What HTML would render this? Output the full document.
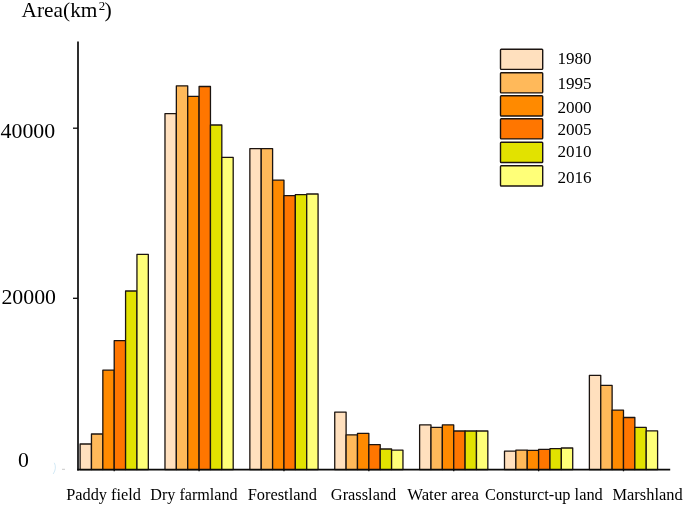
<!DOCTYPE html>
<html><head><meta charset="utf-8"><title>Area chart</title>
<style>
html,body{margin:0;padding:0;background:#fff;}
svg{display:block;filter:blur(0.3px);}
text{font-family:"Liberation Serif","Times New Roman",serif;fill:#000;}
</style></head><body>
<svg width="685" height="506" viewBox="0 0 685 506">
<rect width="685" height="506" fill="#fff"/>

<g stroke="#1c1410" stroke-width="1.3" stroke-linejoin="round">
<rect x="80.10" y="444.00" width="11.37" height="25.60" fill="#FFE0BE"/>
<rect x="91.47" y="434.00" width="11.37" height="35.60" fill="#FFB95A"/>
<rect x="102.84" y="370.20" width="11.37" height="99.40" fill="#FF8A00"/>
<rect x="114.21" y="340.70" width="11.37" height="128.90" fill="#FF7600"/>
<rect x="125.58" y="291.00" width="11.37" height="178.60" fill="#E2E200"/>
<rect x="136.95" y="254.40" width="11.37" height="215.20" fill="#FFFF78"/>
<rect x="164.98" y="113.60" width="11.37" height="356.00" fill="#FFE0BE"/>
<rect x="176.35" y="85.80" width="11.37" height="383.80" fill="#FFB95A"/>
<rect x="187.72" y="96.30" width="11.37" height="373.30" fill="#FF8A00"/>
<rect x="199.09" y="86.50" width="11.37" height="383.10" fill="#FF7600"/>
<rect x="210.46" y="125.00" width="11.37" height="344.60" fill="#E2E200"/>
<rect x="221.83" y="157.30" width="11.37" height="312.30" fill="#FFFF78"/>
<rect x="249.86" y="148.60" width="11.37" height="321.00" fill="#FFE0BE"/>
<rect x="261.23" y="148.60" width="11.37" height="321.00" fill="#FFB95A"/>
<rect x="272.60" y="180.20" width="11.37" height="289.40" fill="#FF8A00"/>
<rect x="283.97" y="195.70" width="11.37" height="273.90" fill="#FF7600"/>
<rect x="295.34" y="194.60" width="11.37" height="275.00" fill="#E2E200"/>
<rect x="306.71" y="194.00" width="11.37" height="275.60" fill="#FFFF78"/>
<rect x="334.74" y="412.10" width="11.37" height="57.50" fill="#FFE0BE"/>
<rect x="346.11" y="434.80" width="11.37" height="34.80" fill="#FFB95A"/>
<rect x="357.48" y="433.30" width="11.37" height="36.30" fill="#FF8A00"/>
<rect x="368.85" y="444.60" width="11.37" height="25.00" fill="#FF7600"/>
<rect x="380.22" y="449.00" width="11.37" height="20.60" fill="#E2E200"/>
<rect x="391.59" y="450.10" width="11.37" height="19.50" fill="#FFFF78"/>
<rect x="419.62" y="424.90" width="11.37" height="44.70" fill="#FFE0BE"/>
<rect x="430.99" y="427.30" width="11.37" height="42.30" fill="#FFB95A"/>
<rect x="442.36" y="424.90" width="11.37" height="44.70" fill="#FF8A00"/>
<rect x="453.73" y="431.00" width="11.37" height="38.60" fill="#FF7600"/>
<rect x="465.10" y="431.00" width="11.37" height="38.60" fill="#E2E200"/>
<rect x="476.47" y="431.00" width="11.37" height="38.60" fill="#FFFF78"/>
<rect x="504.50" y="451.20" width="11.37" height="18.40" fill="#FFE0BE"/>
<rect x="515.87" y="450.10" width="11.37" height="19.50" fill="#FFB95A"/>
<rect x="527.24" y="450.40" width="11.37" height="19.20" fill="#FF8A00"/>
<rect x="538.61" y="449.40" width="11.37" height="20.20" fill="#FF7600"/>
<rect x="549.98" y="448.70" width="11.37" height="20.90" fill="#E2E200"/>
<rect x="561.35" y="448.00" width="11.37" height="21.60" fill="#FFFF78"/>
<rect x="589.38" y="375.40" width="11.37" height="94.20" fill="#FFE0BE"/>
<rect x="600.75" y="385.40" width="11.37" height="84.20" fill="#FFB95A"/>
<rect x="612.12" y="410.10" width="11.37" height="59.50" fill="#FF8A00"/>
<rect x="623.49" y="417.50" width="11.37" height="52.10" fill="#FF7600"/>
<rect x="634.86" y="427.40" width="11.37" height="42.20" fill="#E2E200"/>
<rect x="646.23" y="430.90" width="11.37" height="38.70" fill="#FFFF78"/>
</g>
<g stroke="#0a0a0a" stroke-width="1.7" fill="none">
<line x1="78" y1="41.5" x2="78" y2="470.4"/>
<line x1="77.2" y1="469.7" x2="670.2" y2="469.7"/>
<line x1="73" y1="128.2" x2="78" y2="128.2" stroke-width="1.3"/>
<line x1="73" y1="298.3" x2="78" y2="298.3" stroke-width="1.3"/>
<line x1="114.21" y1="469.5" x2="114.21" y2="471.3" stroke-width="1.3"/>
<line x1="199.09" y1="469.5" x2="199.09" y2="471.3" stroke-width="1.3"/>
<line x1="283.97" y1="469.5" x2="283.97" y2="471.3" stroke-width="1.3"/>
<line x1="368.85" y1="469.5" x2="368.85" y2="471.3" stroke-width="1.3"/>
<line x1="453.73" y1="469.5" x2="453.73" y2="471.3" stroke-width="1.3"/>
<line x1="538.61" y1="469.5" x2="538.61" y2="471.3" stroke-width="1.3"/>
<line x1="623.49" y1="469.5" x2="623.49" y2="471.3" stroke-width="1.3"/>
</g>
<path d="M54.3 462.8 Q57 468 53.2 474" stroke="#b9dcef" stroke-width="0.9" fill="none" opacity="0.7"/>
<line x1="62" y1="469.3" x2="65" y2="469.3" stroke="#bbb" stroke-width="0.8"/>
<text font-size="21.8"><tspan x="21.6" y="17.0" textLength="75.8" lengthAdjust="spacingAndGlyphs">Area(km</tspan><tspan x="98.7" y="9.8" font-size="12.9">2</tspan><tspan x="104.4" y="17.0">)</tspan></text>
<text x="0.6" y="137.6" font-size="21.8" textLength="54.6" lengthAdjust="spacingAndGlyphs">40000</text>
<text x="1.4" y="304.2" font-size="21.8" textLength="54.6" lengthAdjust="spacingAndGlyphs">20000</text>
<text x="18.0" y="466.8" font-size="21.8">0</text>
<text x="66.2" y="499.5" font-size="16.3" textLength="74.7" lengthAdjust="spacingAndGlyphs">Paddy field</text>
<text x="150.3" y="499.5" font-size="16.3" textLength="87.3" lengthAdjust="spacingAndGlyphs">Dry farmland</text>
<text x="247.7" y="499.5" font-size="16.3" textLength="69.2" lengthAdjust="spacingAndGlyphs">Forestland</text>
<text x="330.8" y="499.5" font-size="16.3" textLength="65.5" lengthAdjust="spacingAndGlyphs">Grassland</text>
<text x="407.2" y="499.5" font-size="16.3" textLength="71.7" lengthAdjust="spacingAndGlyphs">Water area</text>
<text x="485.1" y="499.5" font-size="16.3" textLength="117.7" lengthAdjust="spacingAndGlyphs">Consturct-up land</text>
<text x="612.5" y="499.5" font-size="16.3" textLength="70.1" lengthAdjust="spacingAndGlyphs">Marshland</text>
<g stroke="#1c1410" stroke-width="1.4" stroke-linejoin="round">
<rect x="500.5" y="49.2" width="42.2" height="20.2" rx="0.8" fill="#FFE0BE"/>
<rect x="500.5" y="72.7" width="42.2" height="20.2" rx="0.8" fill="#FFB95A"/>
<rect x="500.5" y="95.8" width="42.2" height="20.2" rx="0.8" fill="#FF8A00"/>
<rect x="500.5" y="118.7" width="42.2" height="20.2" rx="0.8" fill="#FF7600"/>
<rect x="500.5" y="142.3" width="42.2" height="20.2" rx="0.8" fill="#E2E200"/>
<rect x="500.5" y="165.8" width="42.2" height="20.2" rx="0.8" fill="#FFFF78"/>
</g>
<text x="557.4" y="63.8" font-size="17.1">1980</text>
<text x="557.4" y="88.9" font-size="17.1">1995</text>
<text x="557.4" y="112.8" font-size="17.1">2000</text>
<text x="557.4" y="134.6" font-size="17.1">2005</text>
<text x="557.4" y="156.5" font-size="17.1">2010</text>
<text x="557.4" y="183.1" font-size="17.1">2016</text>
</svg></body></html>
